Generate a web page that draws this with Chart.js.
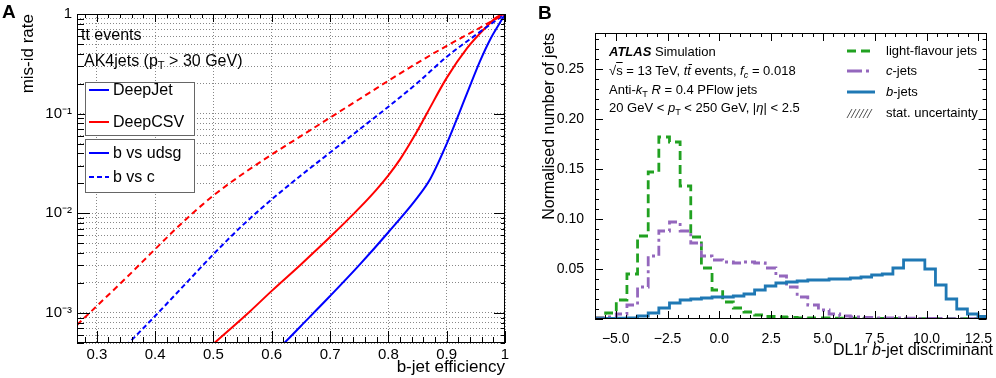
<!DOCTYPE html>
<html>
<head>
<meta charset="utf-8">
<script src="https://cdn.jsdelivr.net/npm/chart.js@4.4.0/dist/chart.umd.min.js"></script>
<style>
  body { margin: 0; background: #fff; }
  #wrap { position: relative; width: 996px; height: 378px; overflow: hidden;
          font-family: "Liberation Sans", Arial, sans-serif; color: #000; }
  canvas { position: absolute; top: 0; }
  #chartA { left: 0; }
  #chartB { left: 530px; }
  .t { position: absolute; line-height: 1; white-space: nowrap; }
  .t sub { font-size: 70%; vertical-align: -0.3em; line-height: 0; }
  .box { position: absolute; background: #fff; border: 1px solid #666; box-sizing: border-box; }
  svg.s { position: absolute; overflow: visible; }
</style>
</head>
<body>
<div id="wrap">
  <canvas id="chartA" width="530" height="378"></canvas>
  <canvas id="chartB" width="466" height="378"></canvas>

  <!-- panel A texts -->
  <div class="t" style="left:2px;top:2px;font-size:19px;font-weight:bold">A</div>
  <div class="t" style="left:81px;top:27px;font-size:16px">tt events</div>
  <div class="t" style="left:84px;top:53px;font-size:16px">AK4jets (p<sub>T</sub> &gt; 30 GeV)</div>
  <div class="box" style="left:85px;top:82px;width:110px;height:54px"></div>
  <div class="box" style="left:85px;top:139px;width:110px;height:54px"></div>
  <svg class="s" style="left:89px;top:85px" width="20" height="10"><line x1="0" y1="5" x2="20" y2="5" stroke="#0000ff" stroke-width="2"/></svg>
  <svg class="s" style="left:89px;top:117px" width="20" height="10"><line x1="0" y1="5" x2="20" y2="5" stroke="#ff0000" stroke-width="2"/></svg>
  <svg class="s" style="left:89px;top:148px" width="20" height="10"><line x1="0" y1="5" x2="20" y2="5" stroke="#0000ff" stroke-width="2"/></svg>
  <svg class="s" style="left:89px;top:172px" width="20" height="10"><line x1="0" y1="5" x2="20" y2="5" stroke="#0000ff" stroke-width="2" stroke-dasharray="5 3"/></svg>
  <div class="t" style="left:113px;top:82px;font-size:16px">DeepJet</div>
  <div class="t" style="left:113px;top:114px;font-size:16px">DeepCSV</div>
  <div class="t" style="left:113px;top:145px;font-size:16px">b vs udsg</div>
  <div class="t" style="left:113px;top:169px;font-size:16px">b vs c</div>

  <!-- panel B texts -->
  <div class="t" style="left:538px;top:3px;font-size:19px;font-weight:bold">B</div>
  <div class="t" style="left:609px;top:45px;font-size:13px"><b><i>ATLAS</i></b> Simulation</div>
  <div class="t" style="left:609px;top:64px;font-size:13px">&radic;<span style="text-decoration:overline">s</span> = 13 TeV, <i>tt&#772;</i> events, <i>f</i><sub><i>c</i></sub> = 0.018</div>
  <div class="t" style="left:609px;top:83px;font-size:13px">Anti-<i>k</i><sub>T</sub> <i>R</i> = 0.4 PFlow jets</div>
  <div class="t" style="left:609px;top:101px;font-size:13px">20 GeV &lt; <i>p</i><sub>T</sub> &lt; 250 GeV, |<i>&eta;</i>| &lt; 2.5</div>
  <svg class="s" style="left:847px;top:46px" width="26" height="10"><line x1="0" y1="5" x2="26" y2="5" stroke="#21a121" stroke-width="3" stroke-dasharray="9 5"/></svg>
  <svg class="s" style="left:847px;top:66px" width="26" height="10"><line x1="0" y1="5" x2="26" y2="5" stroke="#9467bd" stroke-width="3" stroke-dasharray="15 4 3 4"/></svg>
  <svg class="s" style="left:847px;top:87px" width="26" height="10"><line x1="0" y1="5" x2="28" y2="5" stroke="#1f78b4" stroke-width="3"/></svg>
  <svg class="s" style="left:847px;top:109px" width="28" height="9">
    <line x1="0" y1="9" x2="5" y2="0" stroke="#555" stroke-width="1"/>
    <line x1="4" y1="9" x2="9" y2="0" stroke="#555" stroke-width="1"/>
    <line x1="8" y1="9" x2="13" y2="0" stroke="#555" stroke-width="1"/>
    <line x1="12" y1="9" x2="17" y2="0" stroke="#555" stroke-width="1"/>
    <line x1="16" y1="9" x2="21" y2="0" stroke="#555" stroke-width="1"/>
    <line x1="20" y1="9" x2="25" y2="0" stroke="#555" stroke-width="1"/>
  </svg>
  <div class="t" style="left:886px;top:44px;font-size:13px">light-flavour jets</div>
  <div class="t" style="left:886px;top:64px;font-size:13px"><i>c</i>-jets</div>
  <div class="t" style="left:886px;top:85px;font-size:13px"><i>b</i>-jets</div>
  <div class="t" style="left:886px;top:106px;font-size:13px">stat. uncertainty</div>
  <div class="t" style="right:3px;top:342px;font-size:16px">DL1r <i>b</i>-jet discriminant</div>
</div>

<script>
// ---- panel A: ROC curves (mis-id rate vs b-jet efficiency)
const effCsvC = [0.266, 0.30, 0.35, 0.40, 0.45, 0.50, 0.55, 0.60, 0.65, 0.70, 0.75, 0.80, 0.85, 0.90, 0.95, 1.0];
const misCsvC = [7.59e-4, 1.175e-3, 2.24e-3, 4.37e-3, 8.41e-3, 0.0151, 0.0248, 0.0389, 0.0596, 0.0912, 0.1396, 0.2138, 0.3236, 0.4786, 0.6918, 1.0];

const effJetC = [0.35, 0.40, 0.45, 0.50, 0.55, 0.60, 0.65, 0.70, 0.75, 0.80, 0.85, 0.90, 0.95, 1.0];
const misJetC = [4.68e-4, 9.33e-4, 1.905e-3, 3.89e-3, 7.59e-3, 0.0138, 0.024, 0.0407, 0.0692, 0.1175, 0.204, 0.372, 0.617, 1.0];

const effCsvL = [0.50, 0.563, 0.60, 0.65, 0.70, 0.75, 0.78, 0.80, 0.82, 0.843, 0.866, 0.90, 0.935, 0.966, 0.986, 1.0];
const misCsvL = [4.9e-4, 1.042e-3, 1.667e-3, 3.07e-3, 5.78e-3, 0.01127, 0.01742, 0.02404, 0.03475, 0.0575, 0.1005, 0.2286, 0.454, 0.7228, 0.931, 1.0];

const effJetL = [0.62, 0.65, 0.70, 0.75, 0.80, 0.85, 0.872, 0.90, 0.935, 0.957, 0.975, 0.992, 1.0];
const misJetL = [4.9e-4, 7.41e-4, 1.479e-3, 3.02e-3, 6.46e-3, 0.01445, 0.02223, 0.0498, 0.1603, 0.3342, 0.561, 0.83, 1.0];

const xLabelsA = [0.3, 0.4, 0.5, 0.6, 0.7, 0.8, 0.9, 1.0];
const yDecadeLabels = {'0': '1', '-1': '10⁻¹', '-2': '10⁻²', '-3': '10⁻³'};

// ---- panel B: DL1r discriminant histograms (37 bins, -6 .. 13)
const binEdges = [-6, -5.486, -4.973, -4.459, -3.946, -3.432, -2.919, -2.405, -1.892, -1.378,
  -0.865, -0.351, 0.162, 0.676, 1.189, 1.703, 2.216, 2.730, 3.243, 3.757, 4.270, 4.784,
  5.297, 5.811, 6.324, 6.838, 7.351, 7.865, 8.378, 8.892, 9.405, 9.919, 10.432, 10.946,
  11.459, 11.973, 12.486, 13];
const lightJets = [0.001, 0.006, 0.019, 0.045, 0.083, 0.147, 0.182, 0.177, 0.133, 0.082,
  0.051, 0.029, 0.017, 0.011, 0.007, 0.004, 0.0025, 0.002, 0.0015, 0.0012, 0.001, 0.001,
  0.0009, 0.0008, 0.0008, 0.0007, 0.0006, 0.0006, 0.0005, 0.0005, 0.0004, 0.0004, 0.0004,
  0.0003, 0.0003, 0.0003, 0.0002];
const cJets = [0.001, 0.002, 0.005, 0.014, 0.032, 0.063, 0.088, 0.097, 0.088, 0.076,
  0.063, 0.059, 0.057, 0.056, 0.057, 0.056, 0.051, 0.043, 0.032, 0.022, 0.014, 0.009,
  0.005, 0.003, 0.002, 0.0015, 0.0012, 0.001, 0.001, 0.0008, 0.0007, 0.0006, 0.0005,
  0.0004, 0.0004, 0.0003, 0.0003];
const bJets = [0.0003, 0.0005, 0.0008, 0.0012, 0.003, 0.006, 0.011, 0.016, 0.019, 0.020,
  0.021, 0.022, 0.022, 0.023, 0.025, 0.029, 0.033, 0.036, 0.037, 0.038, 0.039, 0.039,
  0.040, 0.040, 0.041, 0.042, 0.044, 0.045, 0.051, 0.059, 0.059, 0.050, 0.034, 0.020,
  0.010, 0.005, 0.0025];
const xLabelsB = [-5, -2.5, 0, 2.5, 5, 7.5, 10, 12.5];
const yLabelsB = [0.05, 0.10, 0.15, 0.20, 0.25];

const FONT = '"Liberation Sans", Arial, sans-serif';
Chart.defaults.font.family = FONT;
Chart.defaults.color = '#000';

function xy(xs, ys) {
  return xs.map((x, i) => ({x: x, y: ys[i]}));
}
function histo(vals) {
  const pts = vals.map((v, i) => ({x: binEdges[i], y: v}));
  pts.push({x: binEdges[binEdges.length - 1], y: vals[vals.length - 1]});
  return pts;
}

// frame + inward ticks on all four sides
const frameTicks = {
  id: 'frameTicks',
  afterDatasetsDraw(chart, args, o) {
    const {ctx, chartArea: a} = chart;
    const sx = chart.scales.x, sy = chart.scales.y;
    ctx.save();
    ctx.strokeStyle = '#000';
    ctx.lineWidth = 1;
    ctx.beginPath();
    o.xTicks.forEach(t => {
      const p = Math.round(sx.getPixelForValue(t.v)) + 0.5;
      if (p < a.left - 1 || p > a.right + 1) return;
      const lb = t.major ? o.bottom[0] : o.bottom[1];
      const lt = t.major ? o.top[0] : o.top[1];
      ctx.moveTo(p, a.bottom); ctx.lineTo(p, a.bottom - lb);
      ctx.moveTo(p, a.top); ctx.lineTo(p, a.top + lt);
    });
    o.yTicks.forEach(t => {
      const p = Math.round(sy.getPixelForValue(t.v)) + 0.5;
      if (p < a.top - 1 || p > a.bottom + 1) return;
      const ll = t.major ? o.left[0] : o.left[1];
      const lr = t.major ? o.right[0] : o.right[1];
      ctx.moveTo(a.left, p); ctx.lineTo(a.left + ll, p);
      ctx.moveTo(a.right, p); ctx.lineTo(a.right - lr, p);
    });
    ctx.stroke();
    ctx.strokeRect(Math.round(a.left) + 0.5, Math.round(a.top) + 0.5,
                   Math.round(a.width) - 1, Math.round(a.height) - 1);
    ctx.restore();
  }
};

// tick positions
const xTicksA = [];
for (let i = 14; i <= 50; i++) xTicksA.push({v: i / 50, major: i % 5 === 0});
const yTicksA = [];
for (let e = -4; e <= 0; e++) {
  for (let s = 1; s <= 9; s++) {
    const v = parseFloat((s * Math.pow(10, e)).toPrecision(3));
    if (v >= 5e-4 && v <= 1) yTicksA.push({v: v, major: s === 1});
  }
}
const xTicksB = [];
for (let i = -12; i <= 25; i++) xTicksB.push({v: i / 2, major: i % 5 === 0});
const yTicksB = [];
for (let i = 0; i <= 28; i++) yTicksB.push({v: i / 100, major: i % 5 === 0});

const curve = {borderWidth: 2, pointRadius: 0, fill: false, cubicInterpolationMode: 'monotone'};

const chartA = new Chart(document.getElementById('chartA'), {
  type: 'line',
  data: {
    datasets: [
      Object.assign({label: 'DeepCSV b vs c', data: xy(effCsvC, misCsvC), borderColor: '#ff0000', borderDash: [6, 4]}, curve),
      Object.assign({label: 'DeepJet b vs c', data: xy(effJetC, misJetC), borderColor: '#0000ff', borderDash: [5, 3]}, curve),
      Object.assign({label: 'DeepCSV b vs udsg', data: xy(effCsvL, misCsvL), borderColor: '#ff0000'}, curve),
      Object.assign({label: 'DeepJet b vs udsg', data: xy(effJetL, misJetL), borderColor: '#0000ff'}, curve)
    ]
  },
  options: {
    responsive: false,
    animation: false,
    devicePixelRatio: 1,
    layout: {padding: {left: 0, right: 25, top: 12, bottom: 0}},
    plugins: {
      legend: {display: false},
      tooltip: {enabled: false},
      frameTicks: {xTicks: xTicksA, yTicks: yTicksA, bottom: [12, 6], top: [8, 4], left: [13, 7], right: [11, 4]}
    },
    scales: {
      x: {
        type: 'linear', min: 0.266, max: 1,
        afterBuildTicks: s => { s.ticks = xLabelsA.map(v => ({value: v})); },
        afterFit: s => { s.height = 35; },
        grid: {color: '#888', lineWidth: 1, drawTicks: false},
        border: {display: false, dash: [1, 2]},
        ticks: {autoSkip: false, maxRotation: 0, padding: 3, font: {size: 15},
                callback: v => v === 1 ? '1' : v.toFixed(1)},
        title: {display: true, text: 'b-jet efficiency', align: 'end', font: {size: 17}, padding: {top: 0, bottom: 0}}
      },
      y: {
        type: 'logarithmic', min: 5e-4, max: 1,
        afterBuildTicks: s => { s.ticks = yTicksA.map(t => ({value: t.v})); },
        afterFit: s => { s.width = 77; },
        grid: {color: '#888', lineWidth: 1, drawTicks: false},
        border: {display: false, dash: [1, 2]},
        ticks: {autoSkip: false, padding: 5, font: {size: 15},
                callback: v => {
                  const l = Math.log10(v);
                  return Math.abs(l - Math.round(l)) < 1e-6 ? (yDecadeLabels[String(Math.round(l))] || '') : '';
                }},
        title: {display: true, text: 'mis-id rate', align: 'end', font: {size: 17}, padding: {top: 18, bottom: 0}}
      }
    }
  },
  plugins: [frameTicks]
});

const step = {borderWidth: 2.8, pointRadius: 0, fill: false, stepped: true};

const chartB = new Chart(document.getElementById('chartB'), {
  type: 'line',
  data: {
    datasets: [
      Object.assign({label: 'b-jets', data: histo(bJets), borderColor: '#1f78b4'}, step),
      Object.assign({label: 'c-jets', data: histo(cJets), borderColor: '#9467bd', borderDash: [10, 4, 3, 4]}, step),
      Object.assign({label: 'light-flavour jets', data: histo(lightJets), borderColor: '#21a121', borderDash: [9, 5]}, step)
    ]
  },
  options: {
    responsive: false,
    animation: false,
    devicePixelRatio: 1,
    layout: {padding: {left: 0, right: 3, top: 33, bottom: 0}},
    plugins: {
      legend: {display: false},
      tooltip: {enabled: false},
      frameTicks: {xTicks: xTicksB, yTicks: yTicksB, bottom: [8, 4], top: [8, 4], left: [8, 4], right: [8, 4]}
    },
    scales: {
      x: {
        type: 'linear', min: -6, max: 12.9,
        afterBuildTicks: s => { s.ticks = xLabelsB.map(v => ({value: v})); },
        afterFit: s => { s.height = 59; },
        grid: {display: false},
        border: {display: false},
        ticks: {autoSkip: false, maxRotation: 0, padding: 4, font: {size: 14},
                callback: v => v.toFixed(1).replace('-', '\u2212')}
      },
      y: {
        type: 'linear', min: 0, max: 0.286,
        afterBuildTicks: s => { s.ticks = yLabelsB.map(v => ({value: v})); },
        afterFit: s => { s.width = 65; },
        grid: {display: false},
        border: {display: false},
        ticks: {autoSkip: false, padding: 3, font: {size: 14}, callback: v => v.toFixed(2)},
        title: {display: true, text: 'Normalised number of jets', align: 'end', font: {size: 16}, padding: {top: 10, bottom: 0}}
      }
    }
  },
  plugins: [frameTicks]
});
</script>
</body>
</html>
